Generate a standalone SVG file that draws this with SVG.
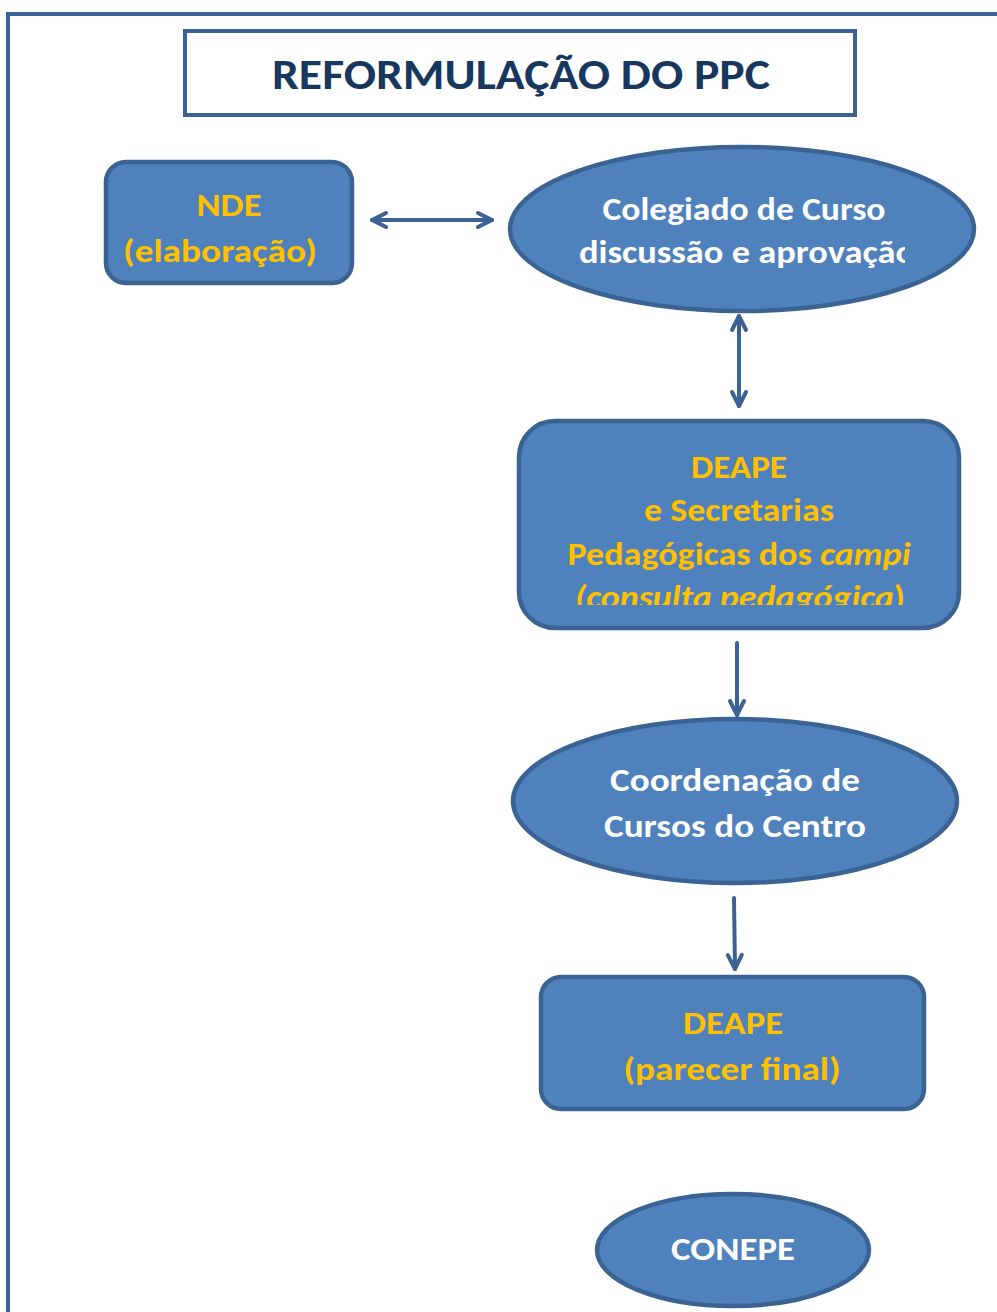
<svg xmlns="http://www.w3.org/2000/svg" width="997" height="1312" viewBox="0 0 997 1312">
<style>
.node{fill:#4F81BD;stroke:#3A6394;stroke-width:4.5}
.t{font-family:Carlito,"Open Sans","Liberation Sans",sans-serif;font-weight:bold;font-size:32px;text-anchor:middle}
.w{fill:#FFFFFF}
.y{fill:#FFC000}
.c{fill:none;stroke:#3A6394;stroke-width:4;stroke-linecap:round}
</style>
<defs>
<marker id="ah" viewBox="0 0 20 20" refX="17" refY="10" markerWidth="20" markerHeight="20" markerUnits="userSpaceOnUse" orient="auto-start-reverse">
<path d="M3,3 L17,10 L3,17" fill="none" stroke="#3A6394" stroke-width="4" stroke-linecap="round" stroke-linejoin="round"/>
</marker>
<clipPath id="clipCol"><rect x="500" y="140" width="405" height="180"/></clipPath>
<clipPath id="clipDea"><rect x="520" y="420" width="440" height="185"/></clipPath>
</defs>
<g id="frame">
<path d="M8,1312 L8,14 L997,14" fill="none" stroke="#3A6394" stroke-width="4"/>
</g>
<g id="title">
<rect x="185" y="31" width="670" height="84" fill="#FFFFFF" stroke="#3A6394" stroke-width="4"/>
<text x="521" y="89" class="t" style="font-size:43px;fill:#17375E" textLength="498" lengthAdjust="spacingAndGlyphs">REFORMULAÇÃO DO PPC</text>
</g>
<g id="connectors">
<line x1="372" y1="220" x2="492" y2="220" class="c" marker-start="url(#ah)" marker-end="url(#ah)"/>
<line x1="739" y1="316" x2="739" y2="406" class="c" marker-start="url(#ah)" marker-end="url(#ah)"/>
<line x1="737" y1="643" x2="737" y2="715" class="c" marker-end="url(#ah)"/>
<line x1="734" y1="898" x2="735" y2="969" class="c" marker-end="url(#ah)"/>
</g>
<g id="nde">
<rect x="106" y="162" width="246" height="121" rx="20" class="node"/>
<text x="229" y="216" class="t y" textLength="65" lengthAdjust="spacingAndGlyphs">NDE</text>
<text x="220" y="262" class="t y" textLength="194" lengthAdjust="spacingAndGlyphs">(elaboração)</text>
</g>
<g id="colegiado">
<ellipse cx="742" cy="229" rx="232" ry="82" class="node"/>
<g clip-path="url(#clipCol)">
<text x="744" y="220" class="t w" textLength="283" lengthAdjust="spacingAndGlyphs">Colegiado de Curso</text>
<text x="579" y="263" class="t w" style="text-anchor:start" textLength="336" lengthAdjust="spacingAndGlyphs">discussão e aprovação</text>
</g>
</g>
<g id="deape1">
<rect x="519" y="421" width="440" height="207" rx="36" class="node"/>
<g clip-path="url(#clipDea)">
<text x="739" y="478" class="t y" textLength="96" lengthAdjust="spacingAndGlyphs">DEAPE</text>
<text x="739" y="521" class="t y" textLength="190" lengthAdjust="spacingAndGlyphs">e Secretarias</text>
<text x="739" y="565" class="t y" textLength="343" lengthAdjust="spacingAndGlyphs">Pedagógicas dos <tspan font-style="italic">campi</tspan></text>
<text x="740" y="608" class="t y" textLength="330" lengthAdjust="spacingAndGlyphs"><tspan font-style="italic">(consulta pedagógica</tspan>)</text>
</g>
</g>
<g id="coordenacao">
<ellipse cx="735" cy="801" rx="222" ry="82" class="node"/>
<text x="735" y="791" class="t w" textLength="250" lengthAdjust="spacingAndGlyphs">Coordenação de</text>
<text x="735" y="837" class="t w" textLength="262" lengthAdjust="spacingAndGlyphs">Cursos do Centro</text>
</g>
<g id="deape2">
<rect x="541" y="977" width="383" height="132" rx="20" class="node"/>
<text x="733" y="1034" class="t y" textLength="100" lengthAdjust="spacingAndGlyphs">DEAPE</text>
<text x="732" y="1080" class="t y" textLength="217" lengthAdjust="spacingAndGlyphs">(parecer final)</text>
</g>
<g id="conepe">
<ellipse cx="733" cy="1250" rx="136" ry="56" class="node"/>
<text x="733" y="1260" class="t w" textLength="124" lengthAdjust="spacingAndGlyphs">CONEPE</text>
</g>
</svg>
